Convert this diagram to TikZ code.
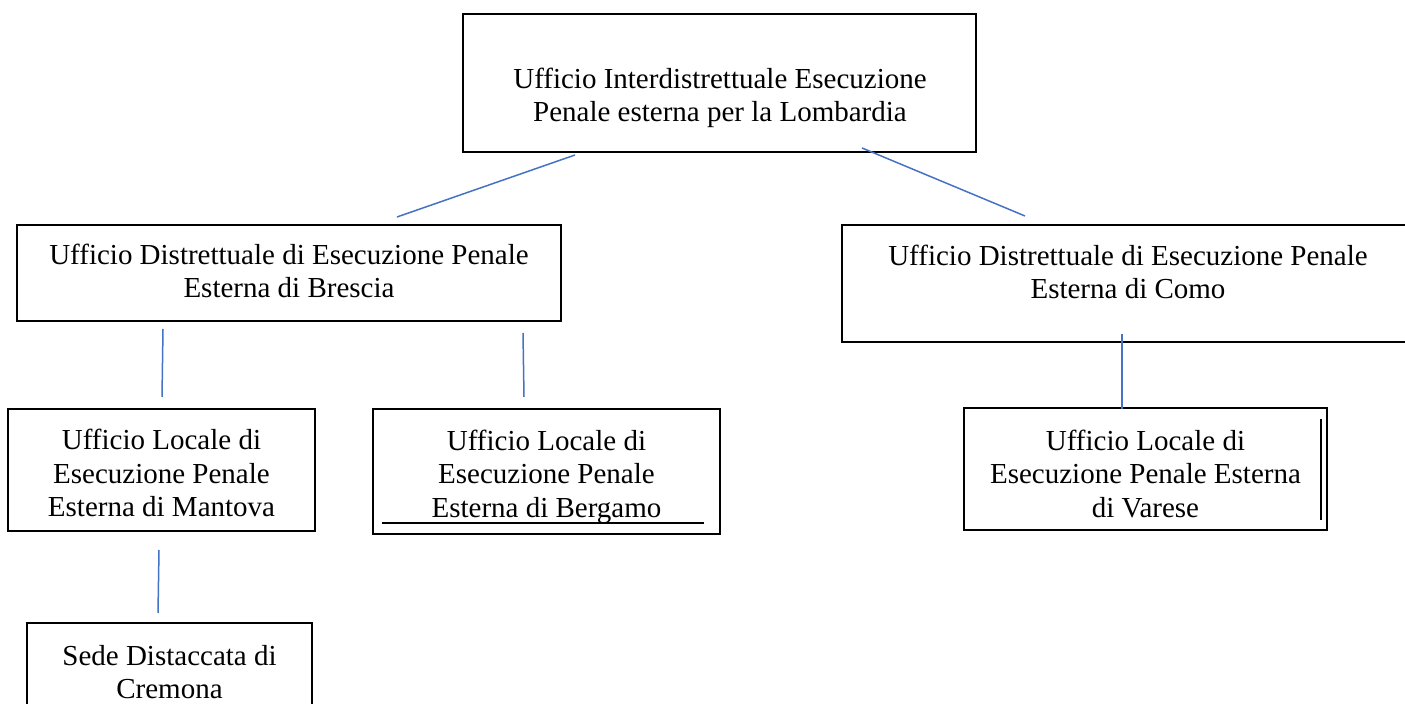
\documentclass[tikz,border=0pt]{standalone}
\usepackage{fontspec}
\setmainfont{Liberation Serif}
\usepackage[svgnames]{xcolor}
\usetikzlibrary{positioning}
\definecolor{linkblue}{HTML}{4472C4}

\begin{document}
\begin{tikzpicture}[x=0.5pt, y=-0.5pt,
        box/.style={draw=black, line width=0.75pt, inner sep=0pt},
        txt/.style={align=center, inner sep=0pt, font=\fontsize{14.5}{16.75}\selectfont},
        conn/.style={draw=linkblue, line width=0.75pt}]
                \useasboundingbox (0,0) rectangle (1405,704);
                \clip (0,0) rectangle (1405,704);

                % boxes
                \node[box, minimum width=256.5pt, minimum height=69pt]   (lomb) at (719.5,83)    {};
                \node[box, minimum width=272pt,   minimum height=48pt]   (bres) at (289,273)     {};
                \node[box, minimum width=286pt,   minimum height=58.5pt] (como) at (1128,283.5)  {};
                \node[box, minimum width=153.5pt, minimum height=61pt]   (mant) at (161.5,470)   {};
                \node[box, minimum width=173.5pt, minimum height=62.5pt] (berg) at (546.5,471.5) {};
                \node[box, minimum width=181.5pt, minimum height=61pt]   (vare) at (1145.5,469)  {};
                \node[box, minimum width=142.5pt, minimum height=68.5pt] (crem) at (169.5,691.5) {};

                % texts
                \node[txt] (lombT) at (720,98)     {Ufficio Interdistrettuale Esecuzione\\Penale esterna per la Lombardia};
                \node[txt] (bresT) at (289,271)    {Ufficio Distrettuale di Esecuzione Penale\\Esterna di Brescia};
                \node[txt] (comoT) at (1128,272)   {Ufficio Distrettuale di Esecuzione Penale\\Esterna di Como};
                \node[txt] (mantT) at (161.5,473)  {Ufficio Locale di\\Esecuzione Penale\\Esterna di Mantova};
                \node[txt] (bergT) at (546.5,476.5){Ufficio Locale di\\Esecuzione Penale\\Esterna di Bergamo};
                \node[txt] (vareT) at (1145.5,474) {Ufficio Locale di\\Esecuzione Penale Esterna\\di Varese};
                \node[txt] (cremT) at (169.5,672)  {Sede Distaccata di\\Cremona};

                % stray strokes
                \draw[line width=0.6pt] (382,523) -- (704,523);
                \draw[line width=1pt]   (1321,419) -- (1321,520);

                % connector ends
                \coordinate (lombL) at (575,155);
                \coordinate (lombR) at (862,148);
                \coordinate (bresU) at (397,217);
                \coordinate (bresL) at (163,329);
                \coordinate (bresR) at (523,333);
                \coordinate (comoU) at (1025,216);
                \coordinate (comoD) at (1122,334);
                \coordinate (mantU) at (162,397);
                \coordinate (mantD) at (159,550);
                \coordinate (bergU) at (524,397);
                \coordinate (vareU) at (1122,409);
                \coordinate (cremU) at (158,613);

                \path[conn]
                (lombL) edge (bresU)
                (lombR) edge (comoU)
                (bresL) edge (mantU)
                (bresR) edge (bergU)
                (comoD) edge (vareU)
                (mantD) edge (cremU);
\end{tikzpicture}
\end{document}
